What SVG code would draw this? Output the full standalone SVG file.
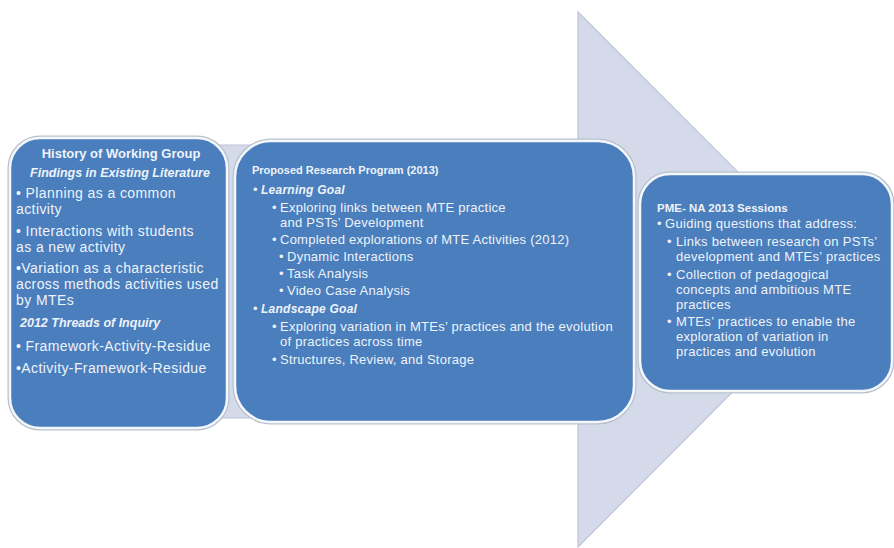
<svg xmlns="http://www.w3.org/2000/svg" width="894" height="548" viewBox="0 0 894 548">
<style>
.box{fill:#4a7ebd;stroke:#f4f7fb;stroke-width:2.5}
.shadow{fill:none;stroke:#b7c0cd;stroke-width:5}
text{font-family:"Liberation Sans",Arial,sans-serif;fill:#eef3fa}
.t{font-weight:bold}
.bi{font-weight:bold;font-style:italic}
.l{font-size:14px;letter-spacing:0.4px}
.m{font-size:13px;letter-spacing:0.25px}
.r{font-size:13px;letter-spacing:0.3px}
</style>
<rect width="894" height="548" fill="#ffffff"/>
<g id="connectors">
<polygon id="arrow" points="20,145 578,145 578,12 845,279 578,547 578,418 20,418" fill="#d4dae9" stroke="#bcc4d6" stroke-width="1.2"/>
</g>
<g id="history">
<rect class="shadow" x="10" y="138" width="217" height="290" rx="30"/>
<rect class="box" x="10" y="138" width="217" height="290" rx="30"/>
<text class="t" x="121" y="158" font-size="13" text-anchor="middle">History of Working Group</text>
<text class="bi" x="120" y="177" font-size="12.5" text-anchor="middle">Findings in Existing Literature</text>
<text class="l" x="16" y="198">• Planning as a common</text>
<text class="l" x="16" y="214">activity</text>
<text class="l" x="16" y="236">• Interactions with students</text>
<text class="l" x="16" y="252">as a new activity</text>
<text class="l" x="16" y="273">•Variation as a  characteristic</text>
<text class="l" x="16" y="289">across methods activities used</text>
<text class="l" x="16" y="305">by MTEs</text>
<text class="bi" x="20" y="327" font-size="12.5">2012  Threads of Inquiry</text>
<text class="l" x="16" y="351">• Framework-Activity-Residue</text>
<text class="l" x="16" y="373">•Activity-Framework-Residue</text>
</g>
<g id="research">
<rect class="shadow" x="235" y="141" width="399" height="281" rx="36"/>
<rect class="box" x="235" y="141" width="399" height="281" rx="36"/>
<text class="t" x="252" y="174" font-size="11">Proposed Research Program (2013)</text>
<text class="m" x="253" y="193.5">•<tspan class="bi" x="261" font-size="12">Learning Goal</tspan></text>
<text class="m" x="272" y="211.5">•<tspan x="280">Exploring links between MTE practice</tspan></text>
<text class="m" x="280" y="226.5">and PSTs’ Development</text>
<text class="m" x="272" y="243.5">•<tspan x="280">Completed explorations of  MTE Activities (2012)</tspan></text>
<text class="m" x="279" y="260.5">•<tspan x="287">Dynamic Interactions</tspan></text>
<text class="m" x="279" y="277.5">•<tspan x="287">Task Analysis</tspan></text>
<text class="m" x="279" y="294.5">•<tspan x="287">Video Case Analysis</tspan></text>
<text class="m" x="253" y="312.5">•<tspan class="bi" x="261" font-size="12">Landscape Goal</tspan></text>
<text class="m" x="272" y="330.5">•<tspan x="280">Exploring variation in MTEs’ practices and the evolution</tspan></text>
<text class="m" x="280" y="345.5">of practices across time</text>
<text class="m" x="272" y="363.5">•<tspan x="280">Structures, Review, and Storage</tspan></text>
</g>
<g id="sessions">
<rect class="shadow" x="640" y="174" width="252" height="217" rx="30"/>
<rect class="box" x="640" y="174" width="252" height="217" rx="30"/>
<text class="t" x="657" y="212" font-size="11.5">PME- NA 2013  Sessions</text>
<text class="r" x="657" y="228">•<tspan x="665">Guiding questions that address:</tspan></text>
<text class="r" x="667" y="246">•<tspan x="676">Links between research on PSTs’</tspan></text>
<text class="r" x="676" y="261">development and MTEs’ practices</text>
<text class="r" x="667" y="279">•<tspan x="676">Collection of pedagogical</tspan></text>
<text class="r" x="676" y="294">concepts and ambitious MTE</text>
<text class="r" x="676" y="309">practices</text>
<text class="r" x="667" y="326">•<tspan x="676">MTEs’ practices to enable the</tspan></text>
<text class="r" x="676" y="341">exploration of variation in</text>
<text class="r" x="676" y="356">practices and evolution</text>
</g>
</svg>
